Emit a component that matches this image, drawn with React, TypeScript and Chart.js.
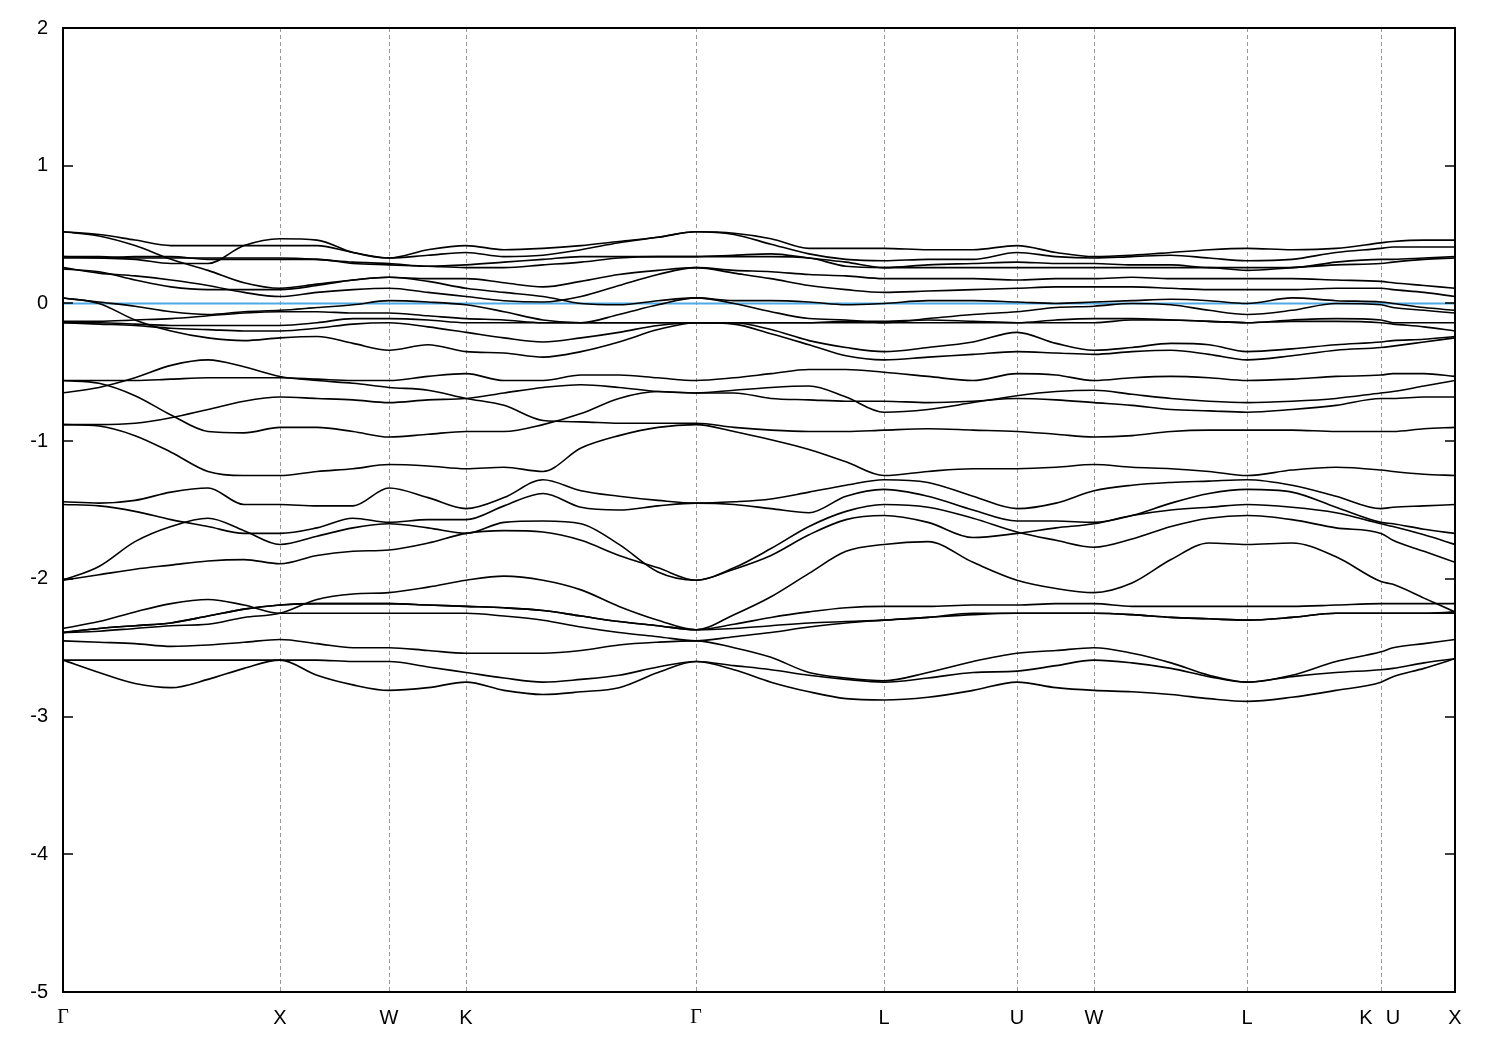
import React, { useEffect, useRef } from "react";
import { Chart, registerables } from "chart.js";
Chart.register(...registerables);

// k-path coordinate of each sample column
const kPath = [0,36,72,108,145,181,217,254,290,326,365,403,441,480,518,556,595,633,671,708,746,783,821,865,910,954,993,1031,1069,1108,1146,1184,1229,1273,1318,1330,1361,1392];
// high-symmetry points (dashed lines) and tick labels
const symLines = [217,326,403,633,821,954,1031,1184,1318];
const labelPos = [0,217,326,403,633,821,954,1031,1184,1303,1330,1392];
const symLabels = ["Γ","X","W","K","Γ","L","U","W","L","K","U","X"];
const yTicks = [-5,-4,-3,-2,-1,0,1,2];
const fermiLevel = 0;

// energy bands (eV)
const v01 = [0.52,0.50,0.46,0.42,0.42,0.42,0.42,0.42,0.37,0.33,0.39,0.42,0.39,0.40,0.42,0.45,0.48,0.52,0.51,0.47,0.40,0.40,0.40,0.39,0.39,0.42,0.37,0.34,0.35,0.37,0.39,0.40,0.39,0.40,0.44,0.45,0.46,0.46];
const v02 = [0.34,0.33,0.32,0.29,0.29,0.42,0.47,0.46,0.37,0.33,0.35,0.37,0.34,0.35,0.39,0.44,0.48,0.52,0.50,0.43,0.36,0.32,0.31,0.32,0.32,0.37,0.34,0.33,0.34,0.35,0.33,0.31,0.32,0.37,0.40,0.41,0.41,0.41];
const v03 = [0.52,0.49,0.42,0.32,0.24,0.15,0.11,0.14,0.17,0.19,0.18,0.18,0.15,0.12,0.16,0.21,0.24,0.26,0.24,0.23,0.21,0.20,0.18,0.18,0.18,0.17,0.18,0.18,0.19,0.18,0.18,0.18,0.18,0.17,0.16,0.15,0.13,0.11];
const v04 = [0.34,0.34,0.33,0.33,0.33,0.33,0.33,0.32,0.30,0.29,0.27,0.28,0.30,0.32,0.34,0.34,0.34,0.34,0.35,0.36,0.33,0.30,0.26,0.28,0.29,0.30,0.29,0.29,0.28,0.28,0.26,0.26,0.26,0.30,0.32,0.32,0.33,0.34];
const v05 = [0.33,0.33,0.34,0.34,0.32,0.32,0.32,0.32,0.29,0.28,0.27,0.26,0.26,0.28,0.30,0.33,0.34,0.34,0.34,0.34,0.33,0.27,0.26,0.26,0.26,0.26,0.26,0.26,0.26,0.26,0.26,0.24,0.26,0.28,0.29,0.30,0.32,0.33];
const v06 = [0.26,0.22,0.20,0.17,0.13,0.08,0.05,0.08,0.10,0.11,0.08,0.05,0.02,0.01,0.05,0.13,0.21,0.26,0.22,0.18,0.13,0.10,0.08,0.09,0.10,0.11,0.12,0.12,0.12,0.11,0.10,0.10,0.10,0.11,0.11,0.10,0.08,0.05];
const v07 = [0.25,0.23,0.17,0.12,0.10,0.10,0.10,0.13,0.17,0.19,0.16,0.11,0.08,0.05,0.00,-0.01,0.02,0.04,0.02,0.02,0.01,-0.01,0.00,0.02,0.02,0.01,0.00,0.01,0.02,0.03,0.02,0.00,0.04,0.02,0.01,0.00,-0.03,-0.05];
const v08 = [0.04,0.01,-0.02,-0.06,-0.08,-0.06,-0.05,-0.03,-0.01,0.02,0.01,-0.01,-0.06,-0.12,-0.14,-0.08,-0.01,0.04,0.00,-0.06,-0.11,-0.12,-0.14,-0.11,-0.08,-0.06,-0.03,-0.02,0.00,-0.01,-0.05,-0.08,-0.05,0.00,-0.01,-0.03,-0.05,-0.07];
const v09 = [-0.13,-0.13,-0.12,-0.11,-0.09,-0.07,-0.06,-0.06,-0.07,-0.07,-0.09,-0.11,-0.12,-0.14,-0.14,-0.14,-0.14,-0.14,-0.14,-0.14,-0.14,-0.13,-0.13,-0.12,-0.13,-0.14,-0.12,-0.11,-0.11,-0.12,-0.13,-0.14,-0.12,-0.11,-0.12,-0.14,-0.14,-0.14];
const v10 = [-0.14,-0.14,-0.15,-0.16,-0.16,-0.16,-0.16,-0.14,-0.11,-0.11,-0.12,-0.14,-0.14,-0.14,-0.14,-0.14,-0.14,-0.14,-0.14,-0.14,-0.14,-0.14,-0.14,-0.14,-0.14,-0.14,-0.14,-0.14,-0.12,-0.12,-0.13,-0.14,-0.13,-0.13,-0.14,-0.15,-0.17,-0.20];
const v11 = [-0.14,-0.15,-0.16,-0.18,-0.19,-0.20,-0.20,-0.18,-0.15,-0.14,-0.17,-0.21,-0.25,-0.28,-0.25,-0.21,-0.16,-0.14,-0.14,-0.19,-0.27,-0.32,-0.35,-0.32,-0.28,-0.21,-0.29,-0.34,-0.32,-0.29,-0.30,-0.35,-0.33,-0.30,-0.28,-0.27,-0.26,-0.24];
const v12 = [0.04,0.00,-0.12,-0.20,-0.25,-0.27,-0.25,-0.24,-0.29,-0.34,-0.30,-0.35,-0.36,-0.39,-0.35,-0.28,-0.19,-0.14,-0.15,-0.22,-0.30,-0.38,-0.41,-0.39,-0.37,-0.35,-0.36,-0.37,-0.35,-0.34,-0.37,-0.41,-0.38,-0.34,-0.32,-0.31,-0.28,-0.25];
const n3 = [-0.56,-0.56,-0.56,-0.55,-0.54,-0.54,-0.54,-0.55,-0.56,-0.56,-0.53,-0.51,-0.56,-0.56,-0.52,-0.52,-0.54,-0.56,-0.54,-0.51,-0.48,-0.48,-0.50,-0.53,-0.56,-0.51,-0.52,-0.56,-0.54,-0.53,-0.54,-0.56,-0.55,-0.53,-0.52,-0.51,-0.51,-0.53];
const n2 = [-0.88,-0.88,-0.87,-0.83,-0.77,-0.71,-0.68,-0.69,-0.70,-0.72,-0.70,-0.69,-0.65,-0.61,-0.59,-0.61,-0.64,-0.65,-0.63,-0.61,-0.60,-0.68,-0.79,-0.77,-0.72,-0.67,-0.64,-0.63,-0.66,-0.69,-0.71,-0.72,-0.71,-0.69,-0.65,-0.64,-0.60,-0.56];
const n4 = [-0.65,-0.61,-0.54,-0.45,-0.41,-0.46,-0.53,-0.56,-0.58,-0.61,-0.63,-0.69,-0.74,-0.85,-0.86,-0.87,-0.87,-0.87,-0.90,-0.92,-0.93,-0.93,-0.92,-0.91,-0.92,-0.93,-0.95,-0.97,-0.96,-0.93,-0.92,-0.92,-0.92,-0.93,-0.93,-0.93,-0.91,-0.90];
const n5 = [-0.56,-0.58,-0.67,-0.81,-0.93,-0.94,-0.90,-0.90,-0.93,-0.97,-0.95,-0.93,-0.93,-0.88,-0.80,-0.69,-0.64,-0.65,-0.65,-0.69,-0.70,-0.71,-0.71,-0.72,-0.71,-0.69,-0.70,-0.72,-0.74,-0.77,-0.78,-0.79,-0.77,-0.74,-0.69,-0.69,-0.68,-0.68];
const n1 = [-0.88,-0.89,-0.96,-1.08,-1.22,-1.25,-1.25,-1.22,-1.20,-1.17,-1.18,-1.20,-1.19,-1.22,-1.05,-0.96,-0.90,-0.88,-0.93,-0.99,-1.06,-1.15,-1.25,-1.22,-1.20,-1.20,-1.19,-1.17,-1.19,-1.20,-1.22,-1.25,-1.21,-1.19,-1.21,-1.22,-1.24,-1.25];
const p1 = [-1.44,-1.45,-1.43,-1.37,-1.34,-1.46,-1.46,-1.47,-1.47,-1.34,-1.41,-1.49,-1.41,-1.28,-1.36,-1.40,-1.43,-1.45,-1.44,-1.42,-1.37,-1.32,-1.28,-1.30,-1.40,-1.49,-1.45,-1.36,-1.32,-1.30,-1.29,-1.28,-1.32,-1.40,-1.49,-1.48,-1.47,-1.46];
const d1 = [-1.46,-1.47,-1.51,-1.57,-1.62,-1.67,-1.67,-1.63,-1.56,-1.59,-1.57,-1.57,-1.47,-1.38,-1.48,-1.50,-1.47,-1.45,-1.46,-1.49,-1.52,-1.40,-1.35,-1.40,-1.50,-1.58,-1.58,-1.59,-1.54,-1.45,-1.38,-1.35,-1.37,-1.48,-1.59,-1.60,-1.64,-1.67];
const s1 = [-2.01,-1.91,-1.73,-1.62,-1.56,-1.65,-1.75,-1.69,-1.63,-1.60,-1.63,-1.67,-1.59,-1.58,-1.60,-1.75,-1.95,-2.01,-1.92,-1.78,-1.62,-1.51,-1.46,-1.48,-1.56,-1.66,-1.72,-1.77,-1.71,-1.62,-1.56,-1.54,-1.57,-1.63,-1.67,-1.72,-1.80,-1.88];
const e1 = [-2.01,-1.97,-1.93,-1.90,-1.87,-1.86,-1.89,-1.83,-1.80,-1.79,-1.74,-1.67,-1.65,-1.66,-1.72,-1.83,-1.92,-2.01,-1.93,-1.83,-1.68,-1.57,-1.54,-1.59,-1.70,-1.67,-1.63,-1.60,-1.54,-1.50,-1.48,-1.46,-1.48,-1.52,-1.60,-1.62,-1.68,-1.75];
const l6 = [-2.39,-2.38,-2.36,-2.34,-2.33,-2.28,-2.25,-2.15,-2.11,-2.10,-2.06,-2.01,-1.98,-2.01,-2.08,-2.20,-2.30,-2.37,-2.26,-2.13,-1.96,-1.80,-1.75,-1.73,-1.88,-2.01,-2.07,-2.10,-2.03,-1.86,-1.74,-1.75,-1.74,-1.84,-2.02,-2.04,-2.14,-2.24];
const l4 = [-2.39,-2.36,-2.34,-2.32,-2.27,-2.22,-2.19,-2.18,-2.18,-2.18,-2.19,-2.20,-2.21,-2.23,-2.27,-2.31,-2.34,-2.37,-2.33,-2.28,-2.24,-2.21,-2.20,-2.20,-2.19,-2.19,-2.18,-2.18,-2.20,-2.20,-2.20,-2.20,-2.20,-2.19,-2.18,-2.18,-2.18,-2.18];
const l7 = [-2.39,-2.36,-2.34,-2.32,-2.27,-2.22,-2.19,-2.18,-2.18,-2.18,-2.19,-2.20,-2.21,-2.23,-2.27,-2.31,-2.34,-2.37,-2.36,-2.34,-2.32,-2.31,-2.30,-2.28,-2.26,-2.25,-2.25,-2.25,-2.26,-2.28,-2.29,-2.30,-2.28,-2.25,-2.25,-2.25,-2.25,-2.25];
const l5 = [-2.36,-2.31,-2.24,-2.18,-2.15,-2.19,-2.25,-2.25,-2.25,-2.25,-2.25,-2.25,-2.27,-2.30,-2.35,-2.39,-2.42,-2.45,-2.42,-2.39,-2.35,-2.32,-2.30,-2.28,-2.25,-2.25,-2.25,-2.25,-2.26,-2.28,-2.29,-2.30,-2.28,-2.25,-2.25,-2.25,-2.25,-2.24];
const l3 = [-2.45,-2.46,-2.47,-2.49,-2.48,-2.46,-2.44,-2.47,-2.50,-2.50,-2.52,-2.54,-2.54,-2.54,-2.52,-2.48,-2.46,-2.45,-2.50,-2.57,-2.68,-2.72,-2.74,-2.68,-2.60,-2.54,-2.52,-2.50,-2.54,-2.61,-2.70,-2.75,-2.70,-2.60,-2.53,-2.50,-2.47,-2.44];
const l2 = [-2.59,-2.59,-2.59,-2.59,-2.59,-2.59,-2.59,-2.59,-2.60,-2.60,-2.64,-2.68,-2.72,-2.75,-2.73,-2.70,-2.64,-2.60,-2.63,-2.66,-2.70,-2.73,-2.75,-2.72,-2.68,-2.67,-2.63,-2.59,-2.61,-2.65,-2.71,-2.75,-2.71,-2.68,-2.66,-2.65,-2.61,-2.58];
const l1 = [-2.59,-2.68,-2.76,-2.79,-2.73,-2.65,-2.59,-2.70,-2.77,-2.81,-2.79,-2.75,-2.81,-2.84,-2.82,-2.79,-2.68,-2.60,-2.66,-2.75,-2.82,-2.87,-2.88,-2.86,-2.81,-2.75,-2.79,-2.81,-2.82,-2.84,-2.87,-2.89,-2.86,-2.81,-2.75,-2.71,-2.65,-2.58];

const bands = [v01,v02,v03,v04,v05,v06,v07,v08,v09,v10,v11,v12,n3,n2,n4,n5,n1,p1,d1,s1,e1,l6,l4,l7,l5,l3,l2,l1];

const FONT = "'Liberation Sans', Arial, Helvetica, sans-serif";
const SERIF = "'Liberation Serif', 'DejaVu Serif', serif";

const framePlugin = {
  id: "frame",
  beforeDatasetsDraw(chart: any) {
    const { ctx, chartArea: a, scales } = chart;
    const x = scales.x;
    ctx.save();
    ctx.strokeStyle = "#9a9a9a";
    ctx.lineWidth = 1;
    ctx.setLineDash([4, 3]);
    symLines.forEach((v) => {
      const px = Math.round(x.getPixelForValue(v)) + 0.5;
      ctx.beginPath();
      ctx.moveTo(px, a.top);
      ctx.lineTo(px, a.bottom);
      ctx.stroke();
    });
    ctx.restore();
  },
  afterDraw(chart: any) {
    const { ctx, chartArea: a, scales } = chart;
    const y = scales.y;
    ctx.save();
    ctx.strokeStyle = "#000";
    ctx.lineWidth = 2;
    ctx.setLineDash([]);
    ctx.strokeRect(a.left, a.top, a.right - a.left, a.bottom - a.top);
    ctx.lineWidth = 1.5;
    yTicks.forEach((v) => {
      const py = Math.round(y.getPixelForValue(v));
      ctx.beginPath();
      ctx.moveTo(a.left, py);
      ctx.lineTo(a.left + 10, py);
      ctx.moveTo(a.right - 10, py);
      ctx.lineTo(a.right, py);
      ctx.stroke();
    });
    ctx.restore();
  },
};

export default function App() {
  const ref = useRef<HTMLCanvasElement | null>(null);
  useEffect(() => {
    if (!ref.current) return;
    const datasets: any[] = bands.map((b) => ({
      data: kPath.map((k, i) => ({ x: k, y: b[i] })),
      borderColor: "#000",
      borderWidth: 1.6,
      pointRadius: 0,
      fill: false,
      cubicInterpolationMode: "monotone",
      order: 0,
    }));
    datasets.push({
      data: [
        { x: kPath[0], y: fermiLevel },
        { x: kPath[kPath.length - 1], y: fermiLevel },
      ],
      borderColor: "#4fa9e3",
      borderWidth: 2,
      pointRadius: 0,
      fill: false,
      order: 5,
    });
    const chart = new Chart(ref.current, {
      type: "line",
      data: { datasets },
      plugins: [framePlugin],
      options: {
        animation: false,
        responsive: false,
        devicePixelRatio: 1,
        layout: { padding: { left: 0, right: 45, top: 28, bottom: 0 } },
        plugins: { legend: { display: false }, tooltip: { enabled: false } },
        scales: {
          x: {
            type: "linear",
            min: 0,
            max: 1392,
            grid: { display: false, drawTicks: false },
            border: { display: false },
            afterBuildTicks: (s: any) => {
              s.ticks = labelPos.map((v) => ({ value: v }));
            },
            afterFit: (s: any) => {
              s.height = 58;
            },
            ticks: {
              autoSkip: false,
              maxRotation: 0,
              padding: 14,
              color: "#000",
              font: (c: any) => ({
                family: symLabels[c.index] === "Γ" ? SERIF : FONT,
                size: 20,
              }),
              callback: (_v: any, i: number) => symLabels[i],
            },
          },
          y: {
            min: -5,
            max: 2,
            grid: { display: false, drawTicks: false },
            border: { display: false },
            afterFit: (s: any) => {
              s.width = 63;
            },
            ticks: {
              stepSize: 1,
              padding: 15,
              color: "#000",
              font: { family: FONT, size: 20 },
              callback: (v: any) => String(v),
            },
          },
        },
      },
    });
    return () => chart.destroy();
  }, []);
  return (
    <div style={{ position: "fixed", left: 0, top: 0, width: 1500, height: 1050, background: "#fff" }}>
      <canvas ref={ref} width={1500} height={1050} style={{ width: 1500, height: 1050 }} />
    </div>
  );
}
